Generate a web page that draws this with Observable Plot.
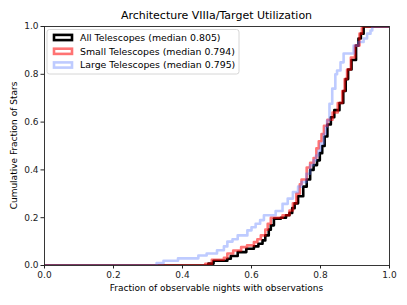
<!DOCTYPE html>
<html><head><meta charset="utf-8">
<script src="https://cdn.jsdelivr.net/npm/d3@7"></script>
<script src="https://cdn.jsdelivr.net/npm/@observablehq/plot@0.6"></script>
<style>
body{margin:0;background:#fff}
#chart svg{font-family:"DejaVu Sans",sans-serif;overflow:visible}
</style>
</head><body><div id="chart"></div>
<script>
// Data (step points: x value, cumulative fraction)
const allX = [0,0.475,0.49,0.53,0.54,0.56,0.585,0.607,0.62,0.632,0.64,0.65,0.656,0.665,0.685,0.70,0.71,0.718,0.725,0.735,0.75,0.76,0.77,0.78,0.79,0.798,0.805,0.812,0.82,0.83,0.84,0.855,0.866,0.873,0.88,0.89,0.903,0.91,0.917,0.925,1.0];
const allY = [0,0.008,0.02,0.028,0.04,0.056,0.07,0.08,0.091,0.105,0.126,0.15,0.168,0.196,0.2,0.21,0.22,0.24,0.26,0.29,0.33,0.36,0.4,0.42,0.44,0.47,0.5,0.54,0.59,0.62,0.65,0.68,0.73,0.78,0.82,0.86,0.92,0.95,0.97,1.0,1.0];
const smallX = [0,0.466,0.485,0.52,0.53,0.547,0.57,0.587,0.607,0.617,0.627,0.64,0.647,0.656,0.68,0.69,0.71,0.72,0.73,0.74,0.745,0.76,0.77,0.78,0.788,0.795,0.803,0.81,0.82,0.835,0.85,0.863,0.87,0.877,0.888,0.9,0.913,0.92,1.0];
const smallY = [0,0.007,0.024,0.032,0.05,0.063,0.077,0.084,0.098,0.11,0.126,0.15,0.175,0.2,0.2,0.21,0.23,0.26,0.3,0.34,0.36,0.41,0.43,0.45,0.49,0.52,0.55,0.585,0.61,0.64,0.68,0.73,0.78,0.82,0.87,0.92,0.97,1.0,1.0];
const largeX = [0,0.325,0.345,0.387,0.446,0.47,0.5,0.52,0.53,0.545,0.56,0.588,0.6,0.612,0.625,0.636,0.67,0.69,0.705,0.72,0.735,0.745,0.759,0.77,0.78,0.787,0.794,0.8,0.809,0.815,0.819,0.826,0.834,0.843,0.848,0.858,0.867,0.896,0.91,0.925,0.935,0.945,0.95,1.0];
const largeY = [0,0.01,0.02,0.03,0.042,0.05,0.064,0.08,0.1,0.11,0.126,0.147,0.16,0.175,0.19,0.21,0.228,0.258,0.28,0.307,0.33,0.349,0.384,0.42,0.44,0.46,0.48,0.51,0.55,0.58,0.607,0.677,0.74,0.8,0.816,0.85,0.887,0.92,0.935,0.95,0.97,0.983,1.0,1.0];
const seriesNames = ["All Telescopes","Small Telescopes","Large Telescopes"];
const medians = [0.805,0.794,0.795];
const ticks = [0,0.2,0.4,0.6,0.8,1.0];
const titleText = "Architecture VIIIa/Target Utilization";
const xLabel = "Fraction of observable nights with observations";
const yLabel = "Cumulative Fraction of Stars";

const styles = [
  {stroke:"#000000", opacity:1},
  {stroke:"#ff0000", opacity:0.55},
  {stroke:"#5577ff", opacity:0.38}
];
const xsArr = [allX, smallX, largeX], ysArr = [allY, smallY, largeY];
const rows = seriesNames.map((n,k)=>xsArr[k].map((x,i)=>({series:n, x, y:ysArr[k][i]})));

const W=407,H=305, mL=44, mR=18, mT=26, mB=40;
const chart = Plot.plot({
  width:W, height:H, marginLeft:mL, marginRight:mR, marginTop:mT, marginBottom:mB,
  style:{fontFamily:"DejaVu Sans, sans-serif", fontSize:"9px", background:"#fff"},
  x:{domain:[0,1]}, y:{domain:[0,1]},
  marks:[
    ...rows.map((r,k)=>Plot.line(r,{x:"x",y:"y",curve:"step-after",stroke:styles[k].stroke,strokeOpacity:styles[k].opacity,strokeWidth:2.6,clip:true})),
    Plot.frame({stroke:"#222",strokeWidth:0.9}),
    Plot.axisX({ticks, tickFormat:d3.format(".1f"), tickSize:3.5, tickPadding:2.5, label:null, fontSize:9, color:"#222"}),
    Plot.axisY({ticks, tickFormat:d3.format(".1f"), tickSize:3.5, tickPadding:2.5, label:null, fontSize:9, color:"#222"})
  ]
});
document.getElementById("chart").appendChild(chart);
const svg = d3.select(chart);
const cx = (mL + W - mR)/2, cy = (mT + H - mB)/2;
svg.append("text").attr("x",cx).attr("y",19).attr("text-anchor","middle").attr("font-size",11).attr("fill","#000").text(titleText);
svg.append("text").attr("x",cx).attr("y",291).attr("text-anchor","middle").attr("font-size",9).attr("fill","#000").text(xLabel);
svg.append("text").attr("transform",`translate(17,${cy}) rotate(-90)`).attr("text-anchor","middle").attr("font-size",9).attr("fill","#000").text(yLabel);
// legend
const lg = svg.append("g").attr("text-anchor","start");
lg.append("rect").attr("x",47).attr("y",29.5).attr("width",192).attr("height",44.5).attr("rx",2.5).attr("fill","#fff").attr("fill-opacity",0.85).attr("stroke","#cccccc").attr("stroke-width",0.8);
const rowsY=[37.5,51.3,65];
seriesNames.forEach((n,k)=>{
  lg.append("rect").attr("x",54).attr("y",rowsY[k]-2.6).attr("width",18).attr("height",5.2)
    .attr("fill","none").attr("stroke",styles[k].stroke).attr("stroke-opacity",styles[k].opacity).attr("stroke-width",2.6);
  lg.append("text").attr("x",80).attr("y",rowsY[k]).attr("dy","0.35em").attr("text-anchor","start").attr("font-size",9.4).attr("fill","#000")
    .text(`${n} (median ${medians[k].toFixed(3)})`);
});
</script>
</body></html>
